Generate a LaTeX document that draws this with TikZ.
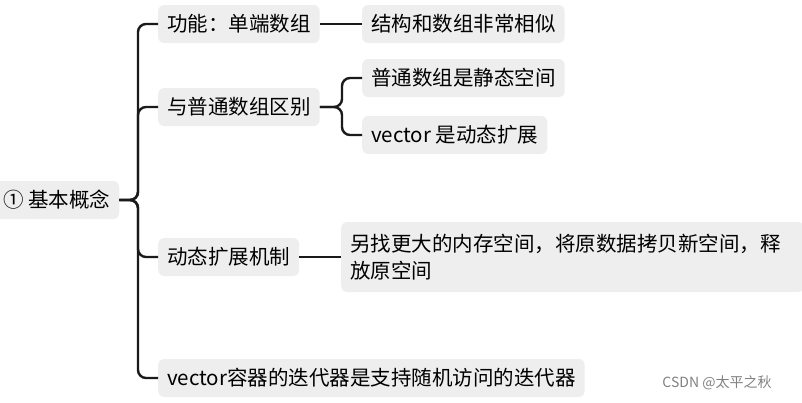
\documentclass[tikz,border=0pt]{standalone}
\usepackage{fontspec}
\setmainfont{Noto Sans CJK SC}
\definecolor{boxgray}{HTML}{EEEEEE}
\definecolor{linegray}{HTML}{1A1A1A}
\begin{document}
\begin{tikzpicture}[x=1pt,y=-1pt,
	topic/.style={fill=boxgray, rounded corners=6pt, inner xsep=9pt, inner ysep=0pt, minimum height=38pt, font=\fontsize{20.5}{27}\selectfont, text=black, anchor=west},
	branch/.style={draw=linegray, line width=2.4pt, rounded corners=8pt}]
	\useasboundingbox (0,0) rectangle (802,402);
	\node[topic] (root) at (-6,200) {① 基本概念};
	\node[topic] (func) at (158,24) {功能：单端数组};
	\node[topic] (like) at (362,24) {结构和数组非常相似};
	\node[topic] (diff) at (158,107) {与普通数组区别};
	\node[topic] (static) at (362,78) {普通数组是静态空间};
	\node[topic] (dyn) at (362,135) {vector 是动态扩展};
	\node[topic] (mech) at (158,257) {动态扩展机制};
	\node[topic, minimum height=70pt, align=left, text width=445pt] (copy) at (341,257) {另找更大的内存空间，将原数据拷贝新空间，释\\放原空间};
	\node[topic] (iter) at (158,378) {vector容器的迭代器是支持随机访问的迭代器};
	\node[text=gray, font=\fontsize{14}{16}\selectfont] (mark) at (717,383) {CSDN @太平之秋};
	% trunk from root
	\coordinate (rootfork) at (138,200);
	\foreach \child in {func, diff, mech, iter}
		\draw[branch] (root.east) -- (rootfork) |- (\child.west);
	% second level
	\draw[branch] (func.east) -- (like.west);
	\coordinate (difffork) at (342,107);
	\foreach \child in {static, dyn}
		\draw[branch] (diff.east) -- (difffork) |- (\child.west);
	\draw[branch] (mech.east) -- (copy.west);
\end{tikzpicture}
\end{document}
